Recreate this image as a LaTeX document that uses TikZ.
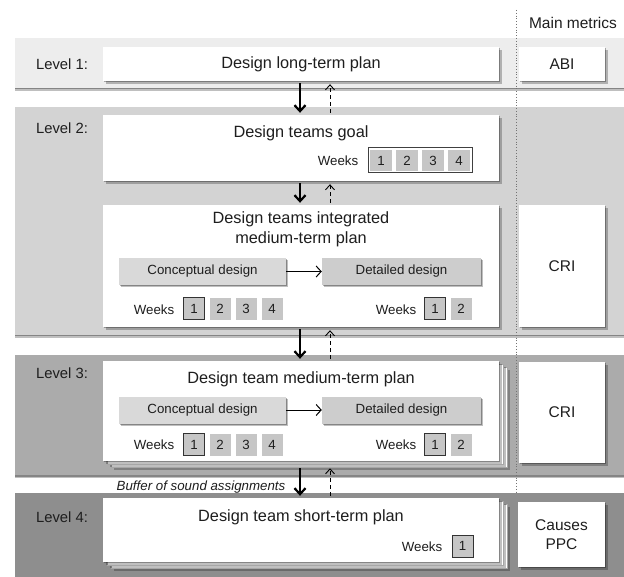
\documentclass[tikz,border=0pt]{standalone}
\usepackage{fontspec}
\setmainfont{Liberation Sans}
\usetikzlibrary{shadows,arrows.meta}

\definecolor{bandA}{HTML}{EDEDED}
\definecolor{bandB}{HTML}{D3D3D3}
\definecolor{bandC}{HTML}{ABABAB}
\definecolor{bandD}{HTML}{8E8E8E}
\definecolor{phaseA}{HTML}{D9D9D9}
\definecolor{phaseB}{HTML}{CDCDCD}
\definecolor{cellgray}{HTML}{C6C6C6}
\definecolor{ink}{HTML}{1E1E1E}

\newcommand{\titlefont}{\fontsize{16.3}{20}\selectfont}
\newcommand{\labelfont}{\fontsize{14.8}{17}\selectfont}
\newcommand{\smallfont}{\fontsize{13.3}{16}\selectfont}
\newcommand{\metricfont}{\fontsize{15.5}{18}\selectfont}

\begin{document}
\begin{tikzpicture}[x=1pt,y=-1pt,
  every node/.style={text=ink, inner sep=0pt},
  % soft shadows built from two offset layers
  softshadow/.style={
    drop shadow={shadow xshift=#1*1.3pt, shadow yshift=-1.3pt*#1, fill=black, opacity=.25},
    drop shadow={shadow xshift=#1*0.7pt, shadow yshift=-0.7pt*#1, fill=black, opacity=.3}},
  bandshadow/.style={
    drop shadow={shadow xshift=0pt, shadow yshift=-3pt, fill=black, opacity=.25},
    drop shadow={shadow xshift=0pt, shadow yshift=-1.5pt, fill=black, opacity=.3}},
  plan/.style={fill=white, inner sep=0pt, softshadow=2},
  backplan/.style={plan, draw=black!35, line width=.5pt},
  phase/.style={inner sep=0pt, minimum height=27pt, font=\smallfont, softshadow=1.6},
  cell/.style={fill=cellgray, minimum width=21pt, minimum height=22pt, font=\smallfont},
  curcell/.style={cell, draw=black!80, line width=1pt},
  levellabel/.style={font=\labelfont},
  down/.style={line width=2.2pt, -{Straight Barb[length=6pt,width=11pt,line width=2.2pt]}},
  up/.style={line width=.9pt, dash pattern=on 4pt off 3pt, -{Straight Barb[length=5pt,width=9pt,line width=.9pt]}},
  seq/.style={line width=1pt, -{Straight Barb[length=5pt,width=11pt,line width=1pt]}}
]
\useasboundingbox (0,0) rectangle (624,577);
\clip (0,0) rectangle (624,577);
\fill[white] (0,0) rectangle (624,577);

% level bands
\path[fill=bandA, bandshadow] (15,38) rectangle (640,88);
\path[fill=bandB, bandshadow] (15,107) rectangle (640,335);
\path[fill=bandC, bandshadow] (15,355) rectangle (640,475);

% separator between plans and metrics
\draw[black!55, line width=.8pt, dotted] (516,10) -- (516,494);

\path[fill=bandD, bandshadow] (15,493) rectangle (640,600);

\node[font=\metricfont] (metrics) at (573,23) {Main metrics};

% Level 1
\node[levellabel] (lab1) at (62,64) {Level 1:};
\node[plan, minimum width=396pt, minimum height=34pt, font=\titlefont] (l1) at (301,64) {Design long-term plan};
\node[plan, minimum width=86pt, minimum height=34pt, font=\metricfont] (abi) at (562,64) {ABI};

% Level 2
\node[levellabel] (lab2) at (62,128) {Level 2:};
\node[plan, minimum width=396pt, minimum height=66pt] (goal) at (301,148) {};
\node[font=\titlefont] (goalt) at (301,133) {Design teams goal};
\node[font=\smallfont] (goalw) at (338,161) {Weeks};
\node[draw=black!75, fill=white, line width=1pt, minimum width=104pt, minimum height=25pt] (gw) at (420,160.5) {};
\foreach \i/\x in {1/381,2/407,3/433,4/459}
  \node[cell, minimum width=22pt, minimum height=21pt] (gw\i) at (\x,160.5) {\i};

\node[plan, minimum width=396pt, minimum height=122pt] (integ) at (301,266) {};
\node[font=\titlefont, align=center] (integt) at (301,229) {Design teams integrated\\medium-term plan};
\node[phase, fill=phaseA, minimum width=167pt] (c2) at (202.5,271.5) {Conceptual design};
\node[phase, fill=phaseB, minimum width=159pt] (d2) at (401.5,271.5) {Detailed design};
\draw[seq] (c2) -- (d2);
\node[font=\smallfont] (w2a) at (154,310) {Weeks};
\node[curcell] (c2w1) at (194,309) {1};
\node[cell] (c2w2) at (220,309) {2};
\node[cell] (c2w3) at (246,309) {3};
\node[cell] (c2w4) at (272,309) {4};
\node[font=\smallfont] (w2b) at (396,310) {Weeks};
\node[curcell] (d2w1) at (435,309) {1};
\node[cell] (d2w2) at (461,309) {2};
\node[plan, minimum width=86pt, minimum height=122pt, font=\metricfont] (cri2) at (562,266) {CRI};

% Level 3
\node[levellabel] (lab3) at (62,373) {Level 3:};
\node[backplan, minimum width=396pt, minimum height=100pt] (m3b) at (309,417) {};
\node[backplan, minimum width=396pt, minimum height=100pt] (m3a) at (305,414) {};
\node[plan, minimum width=396pt, minimum height=100pt] (m3) at (301,411) {};
\node[font=\titlefont] (m3t) at (301,379) {Design team medium-term plan};
\node[phase, fill=phaseA, minimum width=167pt] (c3) at (202.5,410) {Conceptual design};
\node[phase, fill=phaseB, minimum width=159pt] (d3) at (401.5,410) {Detailed design};
\draw[seq] (c3) -- (d3);
\node[font=\smallfont] (w3a) at (154,445) {Weeks};
\node[curcell] (c3w1) at (194,444.5) {1};
\node[cell] (c3w2) at (220,444.5) {2};
\node[cell] (c3w3) at (246,444.5) {3};
\node[cell] (c3w4) at (272,444.5) {4};
\node[font=\smallfont] (w3b) at (396,445) {Weeks};
\node[curcell] (d3w1) at (435,444.5) {1};
\node[cell] (d3w2) at (461,444.5) {2};
\node[plan, minimum width=86pt, minimum height=101pt, font=\metricfont] (cri3) at (562,412.5) {CRI};

\node[font=\smallfont\itshape] (buffer) at (201,487) {Buffer of sound assignments};

% Level 4
\node[levellabel] (lab4) at (62,517) {Level 4:};
\node[backplan, minimum width=396pt, minimum height=64pt] (s4b) at (309,536) {};
\node[backplan, minimum width=396pt, minimum height=64pt] (s4a) at (305,533) {};
\node[plan, minimum width=396pt, minimum height=64pt] (s4) at (301,530) {};
\node[font=\titlefont] (s4t) at (301,517) {Design team short-term plan};
\node[font=\smallfont] (w4) at (422,547) {Weeks};
\node[curcell] (s4w1) at (462.5,546) {1};
\node[plan, minimum width=87pt, minimum height=65pt, font=\metricfont, align=center] (ppc) at (561.5,534.5) {Causes\\[1pt]PPC};

% flow between levels
\draw[down] ([xshift=-1pt,yshift=-2pt]l1.south) -- ([xshift=-1pt,yshift=2pt]goal.north);
\draw[up] ([xshift=29pt,yshift=2pt]goal.north) -- ([xshift=29pt,yshift=-3pt]l1.south);
\draw[down] ([xshift=-1pt,yshift=-2pt]goal.south) -- ([xshift=-1pt,yshift=2pt]integ.north);
\draw[up] ([xshift=29pt,yshift=2pt]integ.north) -- ([xshift=29pt,yshift=-3pt]goal.south);
\draw[down] ([xshift=-1pt,yshift=-2pt]integ.south) -- ([xshift=-1pt,yshift=2pt]m3.north);
\draw[up] ([xshift=29pt,yshift=2pt]m3.north) -- ([xshift=29pt,yshift=-3pt]integ.south);
\draw[down] ([xshift=-9pt,yshift=-1pt]m3b.south) -- ([xshift=-1pt,yshift=2pt]s4.north);
\draw[up] ([xshift=29pt,yshift=2pt]s4.north) -- ([xshift=21pt,yshift=-1pt]m3b.south);
\end{tikzpicture}
\end{document}
